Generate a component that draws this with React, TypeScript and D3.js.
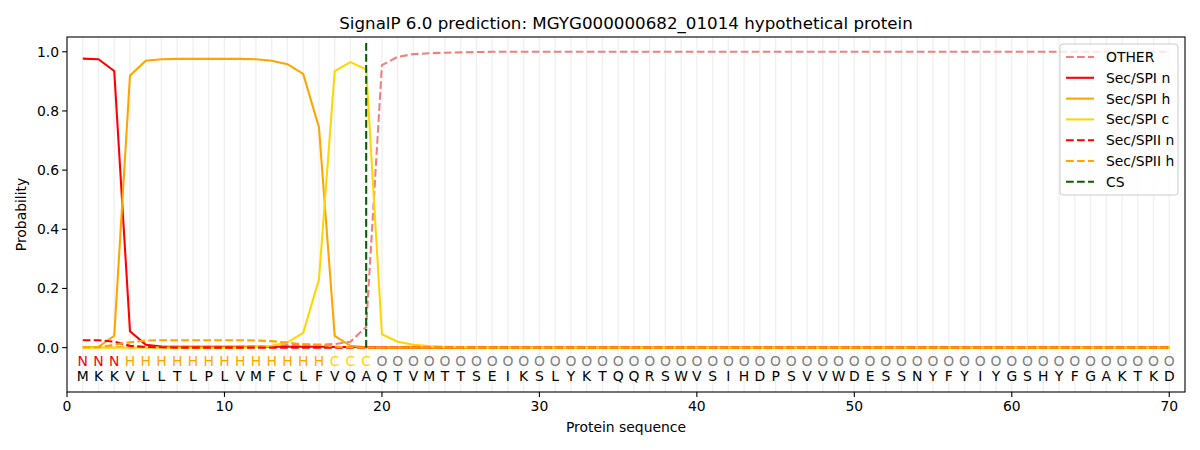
import React, { useEffect, useRef } from 'react';
import * as d3 from 'd3';

const sequence = 'MKKVLLTLPLVMFCLFVQAQTVMTTSEIKSLYKTQQRSWVSIHDPSVVWDESSNYFYIYGSHYFGAKTKD'.split('');
const regionLabels = 'NNNHHHHHHHHHHHHHCCCOOOOOOOOOOOOOOOOOOOOOOOOOOOOOOOOOOOOOOOOOOOOOOOOOOO'.split('');
const cleavageSite = 19;

const other = [
  0.001, 0.001, 0.002, 0.003, 0.003, 0.003, 0.003, 0.003, 0.003, 0.003,
  0.003, 0.004, 0.005, 0.009, 0.01, 0.01, 0.012, 0.02, 0.07, 0.955,
  0.983, 0.992, 0.995, 0.997, 0.998, 0.999, 1, 1, 1, 1,
  1, 1, 1, 1, 1, 1, 1, 1, 1, 1,
  1, 1, 1, 1, 1, 1, 1, 1, 1, 1,
  1, 1, 1, 1, 1, 1, 1, 1, 1, 1,
  1, 1, 1, 1, 1, 1, 1, 1, 1, 1,
];
const spiN = [
  0.977, 0.975, 0.935, 0.055, 0.01, 0.004, 0.003, 0.003, 0.003, 0.003,
  0.003, 0.003, 0.003, 0.003, 0.003, 0.003, 0.002, 0.002, 0.001, 0,
  0, 0, 0, 0, 0, 0, 0, 0, 0, 0,
  0, 0, 0, 0, 0, 0, 0, 0, 0, 0,
  0, 0, 0, 0, 0, 0, 0, 0, 0, 0,
  0, 0, 0, 0, 0, 0, 0, 0, 0, 0,
  0, 0, 0, 0, 0, 0, 0, 0, 0, 0,
];
const spiH = [
  0.001, 0.003, 0.04, 0.92, 0.97, 0.975, 0.976, 0.976, 0.976, 0.976,
  0.976, 0.975, 0.97, 0.958, 0.925, 0.745, 0.04, 0.006, 0.001, 0,
  0, 0, 0, 0, 0, 0, 0, 0, 0, 0,
  0, 0, 0, 0, 0, 0, 0, 0, 0, 0,
  0, 0, 0, 0, 0, 0, 0, 0, 0, 0,
  0, 0, 0, 0, 0, 0, 0, 0, 0, 0,
  0, 0, 0, 0, 0, 0, 0, 0, 0, 0,
];
const spiC = [
  0, 0, 0, 0, 0, 0, 0, 0, 0, 0,
  0, 0.002, 0.006, 0.018, 0.05, 0.23, 0.935, 0.965, 0.94, 0.045,
  0.02, 0.01, 0.005, 0.003, 0.002, 0, 0, 0, 0, 0,
  0, 0, 0, 0, 0, 0, 0, 0, 0, 0,
  0, 0, 0, 0, 0, 0, 0, 0, 0, 0,
  0, 0, 0, 0, 0, 0, 0, 0, 0, 0,
  0, 0, 0, 0, 0, 0, 0, 0, 0, 0,
];
const spiiN = [
  0.025, 0.025, 0.02, 0.006, 0.002, 0.001, 0, 0, 0, 0,
  0, 0, 0, 0, 0, 0, 0, 0, 0, 0,
  0, 0, 0, 0, 0, 0, 0, 0, 0, 0,
  0, 0, 0, 0, 0, 0, 0, 0, 0, 0,
  0, 0, 0, 0, 0, 0, 0, 0, 0, 0,
  0, 0, 0, 0, 0, 0, 0, 0, 0, 0,
  0, 0, 0, 0, 0, 0, 0, 0, 0, 0,
];
const spiiH = [
  0.001, 0.001, 0.01, 0.018, 0.024, 0.025, 0.025, 0.025, 0.025, 0.025,
  0.025, 0.024, 0.022, 0.017, 0.012, 0.01, 0.003, 0.001, 0, 0,
  0, 0, 0, 0, 0, 0, 0, 0, 0, 0,
  0, 0, 0, 0, 0, 0, 0, 0, 0, 0,
  0, 0, 0, 0, 0, 0, 0, 0, 0, 0,
  0, 0, 0, 0, 0, 0, 0, 0, 0, 0,
  0, 0, 0, 0, 0, 0, 0, 0, 0, 0,
];

const seriesList = [
  { name: 'OTHER', values: other, color: '#f08080', dashed: true },
  { name: 'Sec/SPI n', values: spiN, color: '#ff0000', dashed: false },
  { name: 'Sec/SPI h', values: spiH, color: '#ffa500', dashed: false },
  { name: 'Sec/SPI c', values: spiC, color: '#ffd700', dashed: false },
  { name: 'Sec/SPII n', values: spiiN, color: '#ff0000', dashed: true },
  { name: 'Sec/SPII h', values: spiiH, color: '#ffa500', dashed: true },
];

const labelColor: Record<string, string> = { N: '#ff0000', H: '#ffa500', C: '#ffd700', O: '#808080' };
const xTicks = [0, 10, 20, 30, 40, 50, 60, 70];
const yTicks = [0, 0.2, 0.4, 0.6, 0.8, 1.0];

export default function App() {
  const ref = useRef<SVGSVGElement>(null);

  useEffect(() => {
    document.body.style.margin = '0';
    const svg = d3.select(ref.current!);
    svg.selectAll('*').remove();
    const font = 'DejaVu Sans, sans-serif';
    const left = 67, right = 1185, top = 37, bottom = 392;
    const x = d3.scaleLinear().domain([0, 71]).range([left, right]);
    const y = d3.scaleLinear().domain([-0.15, 1.05]).range([bottom, top]);

    svg.append('rect').attr('width', 1200).attr('height', 450).attr('fill', '#fff');

    // grid lines per residue
    const g = svg.append('g');
    sequence.forEach((_, i) => {
      g.append('line')
        .attr('x1', x(i + 1)).attr('x2', x(i + 1))
        .attr('y1', top).attr('y2', bottom)
        .attr('stroke', '#000').attr('stroke-opacity', 0.06).attr('stroke-width', 1.4);
    });

    // residue letters + region labels
    sequence.forEach((aa, i) => {
      g.append('text').attr('x', x(i + 1)).attr('y', y(-0.035) + 8)
        .attr('text-anchor', 'middle').attr('font-family', font).attr('font-size', 13.9)
        .attr('fill', labelColor[regionLabels[i]]).text(regionLabels[i]);
      g.append('text').attr('x', x(i + 1)).attr('y', y(-0.09) + 6.7)
        .attr('text-anchor', 'middle').attr('font-family', font).attr('font-size', 13.9)
        .attr('fill', '#000').text(aa);
    });

    const line = d3.line<number>().x((_, i) => x(i + 1)).y((d) => y(d));
    seriesList.forEach((s) => {
      svg.append('path').datum(s.values).attr('d', line).attr('fill', 'none')
        .attr('stroke', s.color).attr('stroke-width', 2.08)
        .attr('stroke-dasharray', s.dashed ? '7.7,3.3' : null);
    });

    svg.append('line').attr('x1', x(cleavageSite)).attr('x2', x(cleavageSite))
      .attr('y1', y(0)).attr('y2', y(1.04))
      .attr('stroke', '#006400').attr('stroke-width', 2.08).attr('stroke-dasharray', '7.7,3.3');

    // axes frame
    svg.append('rect').attr('x', left).attr('y', top).attr('width', right - left).attr('height', bottom - top)
      .attr('fill', 'none').attr('stroke', '#000').attr('stroke-width', 1.1);

    xTicks.forEach((t) => {
      svg.append('line').attr('x1', x(t)).attr('x2', x(t)).attr('y1', bottom).attr('y2', bottom + 4.9)
        .attr('stroke', '#000').attr('stroke-width', 1.1);
      svg.append('text').attr('x', x(t)).attr('y', bottom + 19).attr('text-anchor', 'middle')
        .attr('font-family', font).attr('font-size', 13.9).text(String(t));
    });
    yTicks.forEach((t) => {
      svg.append('line').attr('x1', left - 4.9).attr('x2', left).attr('y1', y(t)).attr('y2', y(t))
        .attr('stroke', '#000').attr('stroke-width', 1.1);
      svg.append('text').attr('x', left - 8).attr('y', y(t) + 5).attr('text-anchor', 'end')
        .attr('font-family', font).attr('font-size', 13.9).text(t.toFixed(1));
    });

    svg.append('text').attr('x', (left + right) / 2).attr('y', 432).attr('text-anchor', 'middle')
      .attr('font-family', font).attr('font-size', 13.9).text('Protein sequence');
    svg.append('text').attr('transform', `translate(26,${(top + bottom) / 2}) rotate(-90)`)
      .attr('text-anchor', 'middle').attr('font-family', font).attr('font-size', 13.9).text('Probability');
    svg.append('text').attr('x', (left + right) / 2).attr('y', 29).attr('text-anchor', 'middle')
      .attr('font-family', font).attr('font-size', 16.7).text('SignalP 6.0 prediction: MGYG000000682_01014 hypothetical protein');

    // legend
    const legendItems = [...seriesList.map((s) => ({ name: s.name, color: s.color, dashed: s.dashed })),
      { name: 'CS', color: '#006400', dashed: true }];
    const lg = svg.append('g');
    lg.append('rect').attr('x', 1060).attr('y', 44).attr('width', 118).attr('height', 151).attr('rx', 3)
      .attr('fill', '#fff').attr('fill-opacity', 0.8).attr('stroke', '#ccc').attr('stroke-width', 1);
    legendItems.forEach((it, i) => {
      const ly = 57 + i * 20.8;
      lg.append('line').attr('x1', 1066).attr('x2', 1094).attr('y1', ly).attr('y2', ly)
        .attr('stroke', it.color).attr('stroke-width', 2.08)
        .attr('stroke-dasharray', it.dashed ? '7.7,3.3' : null);
      lg.append('text').attr('x', 1106).attr('y', ly + 5).attr('font-family', font).attr('font-size', 13.9)
        .text(it.name);
    });
  }, []);

  return <svg ref={ref} width={1200} height={450} style={{ display: 'block' }} />;
}
